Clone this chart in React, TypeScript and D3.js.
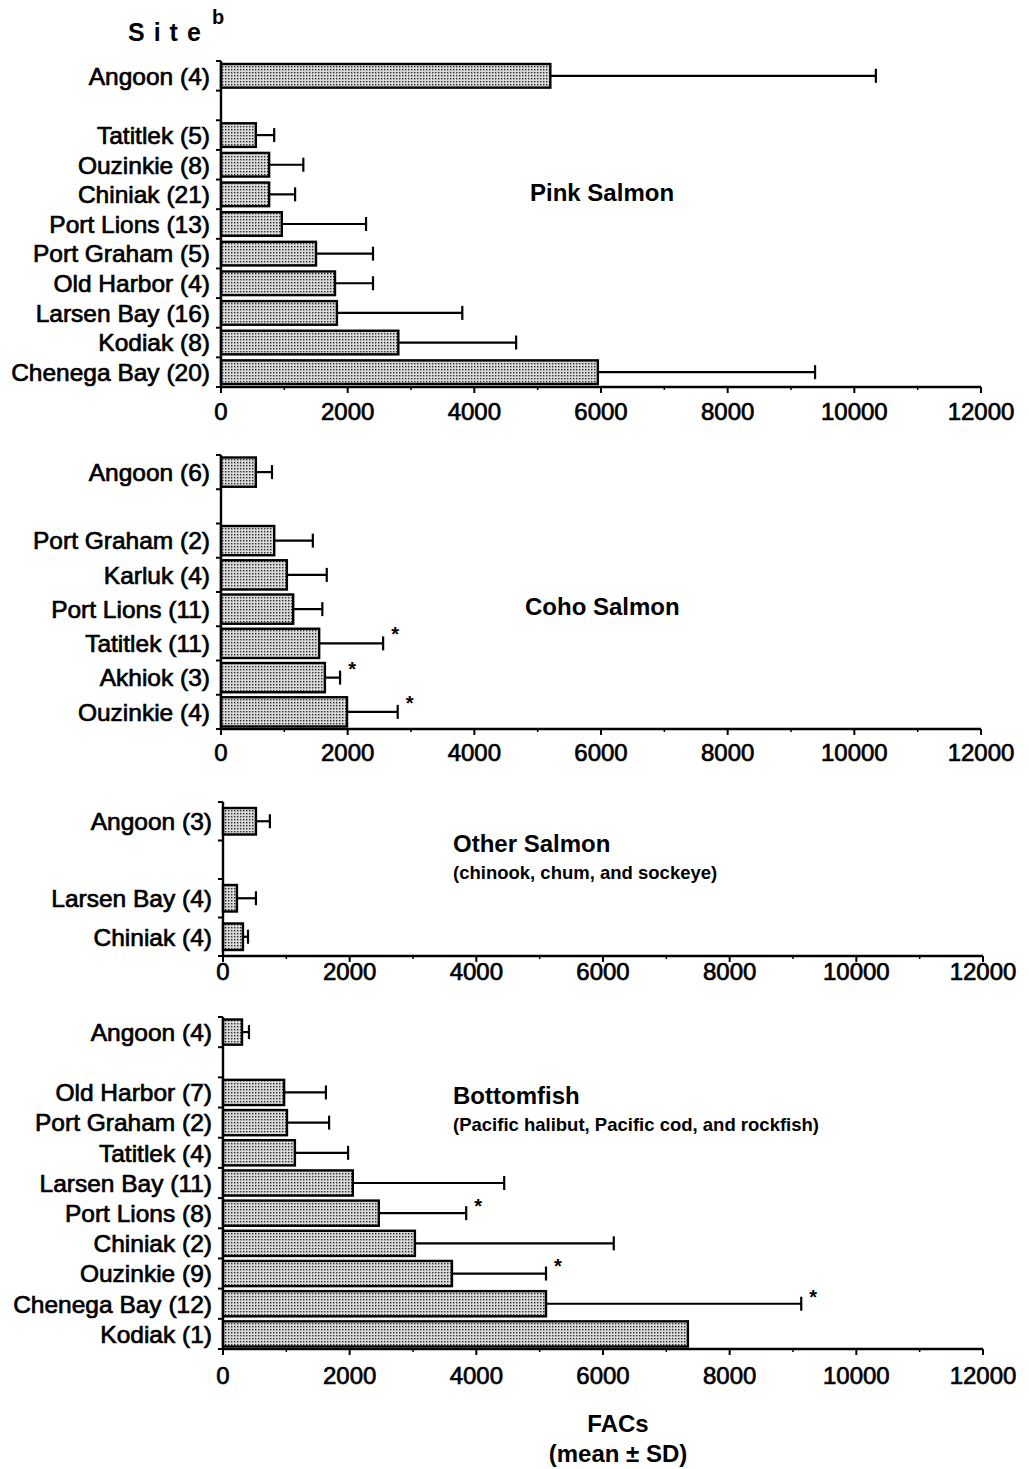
import React from 'react';
import * as d3 from 'd3';

// '' marks the empty band between Angoon and the other sites
const pinkSites = ['Angoon (4)', '', 'Tatitlek (5)', 'Ouzinkie (8)', 'Chiniak (21)', 'Port Lions (13)', 'Port Graham (5)', 'Old Harbor (4)', 'Larsen Bay (16)', 'Kodiak (8)', 'Chenega Bay (20)'];
const pinkMean = [5200, null, 550, 760, 760, 960, 1500, 1800, 1830, 2800, 5950];
const pinkSD = [5140, null, 290, 540, 410, 1330, 900, 600, 1980, 1860, 3430];
const pinkSig = [false, false, false, false, false, false, false, false, false, false, false];

const cohoSites = ['Angoon (6)', '', 'Port Graham (2)', 'Karluk (4)', 'Port Lions (11)', 'Tatitlek (11)', 'Akhiok (3)', 'Ouzinkie (4)'];
const cohoMean = [550, null, 840, 1040, 1140, 1550, 1640, 1990];
const cohoSD = [255, null, 610, 630, 460, 1010, 240, 800];
const cohoSig = [false, false, false, false, false, true, true, true];

const otherSites = ['Angoon (3)', '', 'Larsen Bay (4)', 'Chiniak (4)'];
const otherMean = [520, null, 220, 315];
const otherSD = [220, null, 300, 80];
const otherSig = [false, false, false, false];

const bottomSites = ['Angoon (4)', '', 'Old Harbor (7)', 'Port Graham (2)', 'Tatitlek (4)', 'Larsen Bay (11)', 'Port Lions (8)', 'Chiniak (2)', 'Ouzinkie (9)', 'Chenega Bay (12)', 'Kodiak (1)'];
const bottomMean = [300, null, 965, 1010, 1135, 2050, 2460, 3030, 3615, 5100, 7340];
const bottomSD = [110, null, 660, 665, 840, 2390, 1380, 3140, 1485, 4030, 0];
const bottomSig = [false, false, false, false, false, false, true, false, true, true, false];

const xTicks = [0, 2000, 4000, 6000, 8000, 10000, 12000];
const xMinorTicks = [1000, 3000, 5000, 7000, 9000, 11000];

const FONT = 'Liberation Sans, Arial, Helvetica, sans-serif';

const panels = [
  { sites: pinkSites, mean: pinkMean, sd: pinkSD, sig: pinkSig, top: 61, bottom: 387, x0: 221, x1: 981, inset: 3, labelDy: 33, title: 'Pink Salmon', sub: '', tx: 530, ty: 201 },
  { sites: cohoSites, mean: cohoMean, sd: cohoSD, sig: cohoSig, top: 455, bottom: 729, x0: 221, x1: 981, inset: 2.5, labelDy: 32, title: 'Coho Salmon', sub: '', tx: 525, ty: 615 },
  { sites: otherSites, mean: otherMean, sd: otherSD, sig: otherSig, top: 802, bottom: 956, x0: 223, x1: 983, inset: 6, labelDy: 24, title: 'Other Salmon', sub: '(chinook, chum, and sockeye)', tx: 453, ty: 852 },
  { sites: bottomSites, mean: bottomMean, sd: bottomSD, sig: bottomSig, top: 1017, bottom: 1349, x0: 223, x1: 983, inset: 2.5, labelDy: 35, title: 'Bottomfish', sub: '(Pacific halibut, Pacific cod, and rockfish)', tx: 453, ty: 1104 },
];

function Panel({ p }: { p: any }) {
  const keys = p.sites.map((s: string, i: number) => i + ':' + s);
  const y = d3.scaleBand().domain(keys).range([p.top, p.bottom]).paddingInner(0).paddingOuter(0);
  const x = d3.scaleLinear().domain([0, 12000]).range([p.x0, p.x1]);
  const bw = y.bandwidth();
  const boundaries = keys.map((k: string) => y(k) as number).concat([p.bottom]);

  return (
    <g>
      {/* bars + error bars */}
      {keys.map((k: string, i: number) => {
        const m = p.mean[i];
        if (m === null) return null;
        const by = (y(k) as number) + p.inset;
        const bh = bw - 2 * p.inset;
        const cy = (y(k) as number) + bw / 2;
        const hi = m + p.sd[i];
        return (
          <g key={k}>
            {p.sd[i] > 0 && (
              <g stroke="#000" strokeWidth={2.2}>
                <line x1={x(m)} x2={x(hi)} y1={cy} y2={cy} />
                <line x1={x(hi)} x2={x(hi)} y1={cy - 7} y2={cy + 7} />
              </g>
            )}
            <rect x={x(0)} y={by} width={x(m) - x(0)} height={bh} fill="url(#stipple)" stroke="#000" strokeWidth={2.4} />
            {p.sig[i] && (
              <text x={x(hi) + 12} y={(y(k) as number) + 15} fontSize={20} fontWeight="bold" textAnchor="middle" fontFamily={FONT}>*</text>
            )}
          </g>
        );
      })}

      {/* y axis */}
      <line x1={p.x0} x2={p.x0} y1={p.top} y2={p.bottom} stroke="#000" strokeWidth={2.4} />
      {boundaries.map((b: number, i: number) => (
        <line key={'yt' + i} x1={p.x0 - 5} x2={p.x0} y1={b} y2={b} stroke="#000" strokeWidth={2} />
      ))}
      {keys.map((k: string, i: number) =>
        p.sites[i] ? (
          <text key={'yl' + k} x={p.x0 - 11} y={(y(k) as number) + bw / 2} dy="0.36em" textAnchor="end" fontSize={24.5} fontFamily={FONT} stroke="#000" strokeWidth={0.7}>
            {p.sites[i]}
          </text>
        ) : null
      )}

      {/* x axis */}
      <line x1={p.x0} x2={p.x1} y1={p.bottom} y2={p.bottom} stroke="#000" strokeWidth={2.4} />
      {xTicks.map((t) => (
        <g key={'xt' + t}>
          <line x1={x(t)} x2={x(t)} y1={p.bottom} y2={p.bottom + 6} stroke="#000" strokeWidth={2} />
          <text x={x(t)} y={p.bottom + p.labelDy} textAnchor="middle" fontSize={24} fontFamily={FONT} stroke="#000" strokeWidth={0.7}>{t}</text>
        </g>
      ))}
      {xMinorTicks.map((t) => (
        <line key={'xm' + t} x1={x(t)} x2={x(t)} y1={p.bottom} y2={p.bottom + 3} stroke="#000" strokeWidth={1.5} />
      ))}

      {/* panel title */}
      <text x={p.tx} y={p.ty} fontSize={24} fontWeight="bold" fontFamily={FONT}>{p.title}</text>
      {p.sub && (
        <text x={p.tx} y={p.ty + 27} fontSize={18.5} fontWeight="bold" fontFamily={FONT}>{p.sub}</text>
      )}
    </g>
  );
}

export default function App() {
  return (
    <svg width={1029} height={1469} style={{ position: 'absolute', left: 0, top: 0, background: '#fff' }}>
      <defs>
        <pattern id="stipple" width={3} height={3} patternUnits="userSpaceOnUse">
          <rect width={3} height={3} fill="#dadada" />
          <rect x={0} y={0} width={1.4} height={1.4} fill="#2a2a2a" />
        </pattern>
      </defs>
      <rect width={1029} height={1469} fill="#fff" />
      <text x={128} y={41} fontSize={25} fontWeight="bold" letterSpacing={9} fontFamily={FONT}>Site</text>
      <text x={212} y={24} fontSize={20} fontWeight="bold" fontFamily={FONT}>b</text>
      {panels.map((p, i) => (
        <Panel key={i} p={p} />
      ))}
      <text x={618} y={1432} textAnchor="middle" fontSize={24} fontWeight="bold" fontFamily={FONT}>FACs</text>
      <text x={618} y={1462} textAnchor="middle" fontSize={24} fontWeight="bold" fontFamily={FONT}>(mean ± SD)</text>
    </svg>
  );
}
